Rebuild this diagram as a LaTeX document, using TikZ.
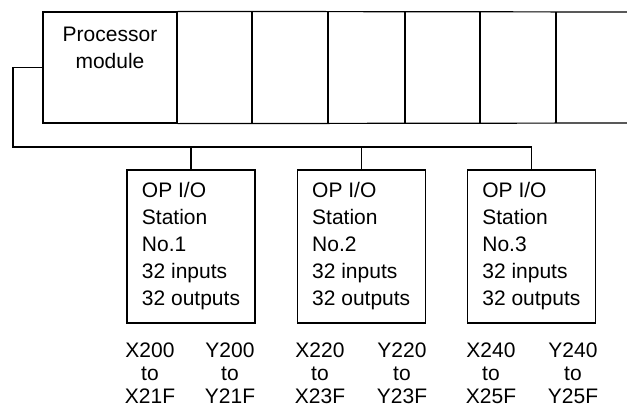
\documentclass[tikz,border=0pt]{standalone}
\usepackage{fontspec}
\setmainfont{Liberation Sans}
\usetikzlibrary{positioning}

\begin{document}
\begin{tikzpicture}[x=1pt, y=-1pt, line width=1.2pt,
    txt/.style={font=\fontsize{21pt}{27pt}\selectfont},
    station/.style={draw, txt, align=left, inner sep=0pt,
        minimum width=128pt, minimum height=153pt},
    io/.style={align=center, inner sep=0pt,
        font=\fontsize{21pt}{23pt}\selectfont}]
    \useasboundingbox (0,0) rectangle (627,410);

    % Baugruppentraeger
    \node[draw, minimum width=134pt, minimum height=111pt, inner sep=0pt,
        label={[anchor=north, align=center, txt, yshift=-12pt]north:{Processor\\module}}]
        (proc) at (110,67.5) {};
    \draw (proc.north east) -- (627,12);
    \draw (proc.south east) -- (627,123);
    \foreach \x in {252,328,405,480,556}
        \draw (\x,12) -- (\x,123);

    % Stationen
    \node[station] (st1) at (191,246.5) {OP I/O\\Station\\No.1\\32 inputs\\32 outputs};
    \node[station, right=41pt of st1] (st2) {OP I/O\\Station\\No.2\\32 inputs\\32 outputs};
    \node[station, right=41pt of st2] (st3) {OP I/O\\Station\\No.3\\32 inputs\\32 outputs};

    % Bus
    \coordinate (bus) at (13,147);
    \draw (proc.west) -| (bus) -- (st3.north |- bus) -- (st3.north);
    \draw (st1.north |- bus) -- (st1.north);
    \draw (st2.north |- bus) -- (st2.north);

    % Adressen
    \node[io] (x1) at (150,373) {X200\\to\\X21F};
    \node[io] (y1) at (230,373) {Y200\\to\\Y21F};
    \node[io] (x2) at (320,373) {X220\\to\\X23F};
    \node[io] (y2) at (402,373) {Y220\\to\\Y23F};
    \node[io] (x3) at (491,373) {X240\\to\\X25F};
    \node[io] (y3) at (573,373) {Y240\\to\\Y25F};
\end{tikzpicture}
\end{document}
